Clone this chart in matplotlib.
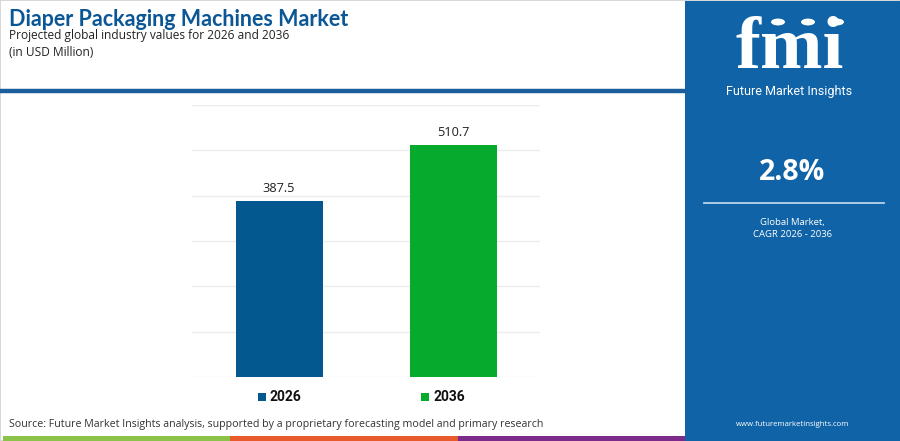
import matplotlib
matplotlib.use('Agg')
import matplotlib.pyplot as plt
from matplotlib.patches import Rectangle, Circle
import numpy as np

# data
years = ['2026', '2036']
values = [387.5, 510.7]
bar_colors = ['#03588f', '#06ab2e']
cagr = '2.8%'
title = 'Diaper Packaging Machines Market'
subtitle = 'Projected global industry values for 2026 and 2036'
unit = '(in USD Million)'
source = 'Source: Future Market Insights analysis, supported by a proprietary forecasting model and primary research'

W, H = 900, 441
panel = '#0f63a6'
plt.rcParams['font.family'] = ['Open Sans', 'DejaVu Sans']

fig = plt.figure(figsize=(W / 100, H / 100), dpi=100)
fig.patch.set_facecolor('white')

def px(x, y):
    # pixel coords (top-left origin) to figure fraction
    return x / W, 1 - y / H

# outer border
fig.add_artist(Rectangle((0, 0), 1, 1, transform=fig.transFigure,
                         fill=False, edgecolor='#d0d0d0', lw=1.2))

# header texts
fig.text(*px(9, 19), title, fontsize=15.5, fontweight='bold', color='#0b5796',
         va='center', ha='left', family=['Lato', 'DejaVu Sans'])
fig.text(*px(9, 35), subtitle, fontsize=8.6, color='#222222', va='center', ha='left')
fig.text(*px(9, 52), unit, fontsize=8.6, color='#222222', va='center', ha='left')

# header rule
fig.add_artist(plt.Line2D([0, 685 / W], [1 - 91 / H, 1 - 91 / H], transform=fig.transFigure,
                          color='#1a5f9c', lw=3.2))

# chart
ax = fig.add_axes([192 / W, 64 / H, 348 / W, 272 / H])
x = np.arange(len(years))
bars = ax.bar(x, values, width=0.5, color=bar_colors, zorder=3)
ax.set_xlim(-0.5, 1.5)
ax.set_ylim(0, 600)
ax.set_yticks(np.arange(0, 601, 100))
ax.grid(axis='y', color='#ececec', lw=1, zorder=0)
ax.tick_params(left=False, bottom=False, labelleft=False, labelbottom=False)
for s in ax.spines.values():
    s.set_visible(False)
for b, v in zip(bars, values):
    ax.annotate(f'{v:.1f}', (b.get_x() + b.get_width() / 2, v), xytext=(0, 4.5),
                textcoords='offset points', ha='center', va='bottom',
                fontsize=9.2, color='#222222')

# legend
for xs, lab, c in [(258, years[0], bar_colors[0]), (421, years[1], bar_colors[1])]:
    fig.add_artist(Rectangle(px(xs, 401), 8 / W, 8 / H, transform=fig.transFigure,
                             color=c, lw=0))
    fig.text(*px(xs + 12, 397), lab, fontsize=10, fontweight='bold', color='#111111',
             va='center', ha='left', family=['Roboto', 'DejaVu Sans'])

# source
fig.text(*px(9, 425), source, fontsize=7.7, color='#333333', va='center', ha='left')

# bottom strip
for i, c in enumerate(['#8bc34a', '#e85a2b', '#7d2b8b']):
    fig.add_artist(Rectangle(((3 + i * 227.3) / W, 0), 227.3 / W, 5 / H,
                             transform=fig.transFigure, color=c, lw=0))

# right panel
fig.add_artist(Rectangle((685 / W, 0), 215 / W, 440 / H, transform=fig.transFigure,
                         color=panel, lw=0))
cx = 792.5
fig.text(*px(cx - 3, 50), 'fmi', fontsize=54, fontweight='bold', color='white',
         va='center', ha='center', family=['Liberation Serif', 'DejaVu Serif'])
for yy in np.arange(27, 76, 3.4):
    fig.add_artist(plt.Line2D([720 / W, 860 / W], [1 - yy / H, 1 - yy / H],
                              transform=fig.transFigure, color=panel, lw=0.9))
for ccx in [778, 808, 837]:
    fig.add_artist(Circle(px(ccx, 22), 7 / W, transform=fig.transFigure,
                          color='white', lw=0))
fig.text(*px(cx - 3, 92), 'Future Market Insights', fontsize=9, color='white',
         va='center', ha='center', family=['Roboto', 'DejaVu Sans'])
fig.text(*px(cx, 172), cagr, fontsize=20.5, fontweight='bold', color='white',
         va='center', ha='center')
fig.add_artist(plt.Line2D([704 / W, 884 / W], [1 - 203 / H, 1 - 203 / H],
                          transform=fig.transFigure, color='#b9d3ea', lw=1.3))
fig.text(*px(cx, 222), 'Global Market,', fontsize=6.8, color='white', va='center', ha='center')
fig.text(*px(cx, 235), 'CAGR 2026 - 2036', fontsize=6.8, color='white', va='center', ha='center')
fig.text(*px(cx, 425), 'www.futuremarketinsights.com', fontsize=5.6, color='white',
         va='center', ha='center')

fig.savefig('out.png', dpi=100, facecolor='white')
